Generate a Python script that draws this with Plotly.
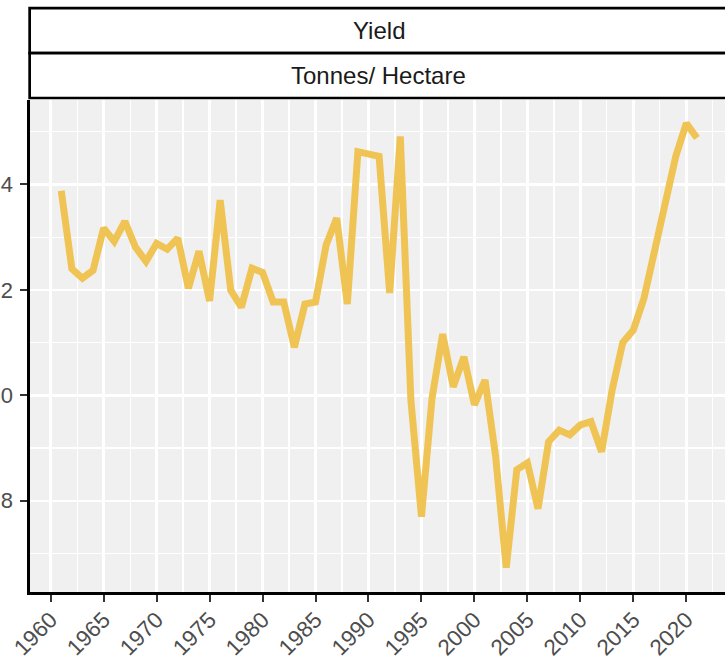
import plotly.graph_objects as go

# ---------------- data ----------------
years = list(range(1961, 2022))
yield_t_ha = [
    1.388, 1.240, 1.222, 1.237, 1.317, 1.292, 1.330, 1.281, 1.254, 1.288,
    1.277, 1.298, 1.203, 1.273, 1.179, 1.370, 1.199, 1.167, 1.241, 1.233,
    1.177, 1.177, 1.091, 1.173, 1.177, 1.285, 1.336, 1.173, 1.462, 1.457,
    1.453, 1.194, 1.491, 0.991, 0.770, 0.995, 1.116, 1.016, 1.073, 0.982,
    1.029, 0.884, 0.673, 0.859, 0.872, 0.785, 0.912, 0.934, 0.925, 0.944,
    0.950, 0.893, 1.010, 1.100, 1.124, 1.184, 1.273, 1.370, 1.453, 1.516,
    1.488,
]
x_tick_vals = list(range(1960, 2025, 5))
x_tick_text = [str(v) for v in x_tick_vals]
y_tick_vals = [0.8, 1.0, 1.2, 1.4]
y_tick_text = ["0.8", "1.0", "1.2", "1.4"]
strip_top = "Yield"
strip_bottom = "Tonnes/ Hectare"

# ---------------- geometry ----------------
W, H = 725, 660
L, R, T, B = 30, 0, 100, 67.5
plot_h = H - T - B


def py2paper(py):
    return (H - B - py) / plot_h


LINE_COL = "#F0C454"
FONT = "Liberation Sans, Arial, sans-serif"

fig = go.Figure()
fig.add_trace(go.Scatter(
    x=years, y=yield_t_ha, mode="lines",
    line=dict(color=LINE_COL, width=7),
    hoverinfo="skip", showlegend=False,
))

fig.update_layout(
    width=W, height=H,
    margin=dict(l=L, r=R, t=T, b=B, autoexpand=False),
    paper_bgcolor="white",
    plot_bgcolor="#F0F0F0",
    font=dict(family=FONT, color="#4D4D4D"),
    showlegend=False,
)

fig.update_xaxes(
    range=[1958.05, 2023.65],
    tickmode="array", tickvals=x_tick_vals, ticktext=x_tick_text,
    tickangle=-45,
    tickfont=dict(size=22.5, color="#4D4D4D", family=FONT),
    ticks="outside", ticklen=7, tickwidth=2, tickcolor="#333333",
    ticklabelstandoff=-4,
    showline=True, linecolor="black", linewidth=2.7,
    showgrid=True, gridcolor="white", gridwidth=2.4,
    minor=dict(dtick=2.5, tick0=1957.5, showgrid=True, gridcolor="white", gridwidth=1.2, ticks=""),
    zeroline=False, automargin=False,
)

fig.update_yaxes(
    range=[0.627, 1.560],
    tickmode="array", tickvals=y_tick_vals, ticktext=y_tick_text,
    tickfont=dict(size=22, color="#4D4D4D", family=FONT),
    ticks="outside", ticklen=7, tickwidth=2, tickcolor="#333333",
    ticklabelstandoff=3,
    showline=True, linecolor="black", linewidth=2.7,
    showgrid=True, gridcolor="white", gridwidth=2.4,
    minor=dict(dtick=0.2, tick0=0.7, showgrid=True, gridcolor="white", gridwidth=1.2, ticks=""),
    zeroline=False, automargin=False,
)

# strips
strip_bounds = [(8, 53, strip_top), (53, 98, strip_bottom)]
for top_px, bot_px, label in strip_bounds:
    fig.add_shape(
        type="rect", xref="paper", yref="paper",
        x0=-0.0005, x1=1.05, y0=py2paper(bot_px), y1=py2paper(top_px),
        line=dict(color="black", width=2.7), fillcolor="white", layer="above",
    )
    fig.add_annotation(
        xref="paper", yref="paper", x=0.502, y=py2paper((top_px + bot_px) / 2),
        text=label, showarrow=False, xanchor="center", yanchor="middle",
        font=dict(size=24, color="#1A1A1A", family=FONT),
    )

fig.write_html(
    "out.html",
    config={"displayModeBar": False, "staticPlot": True},
    post_script="document.body.style.margin='0';document.body.style.overflow='hidden';",
)
